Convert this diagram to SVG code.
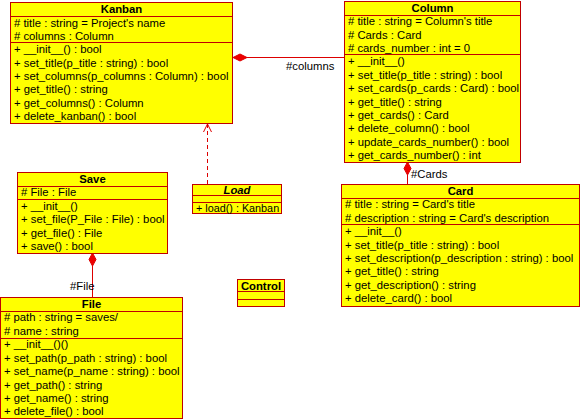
<svg xmlns="http://www.w3.org/2000/svg" width="580" height="419" viewBox="0 0 580 419">
  <style>
    .box { fill: #ffff00; stroke: #c00000; stroke-width: 1; }
    .sep { stroke: #c00000; stroke-width: 1; }
    text { font-family: "Liberation Sans", Arial, sans-serif; font-size: 11.3px; fill: #000; }
    .name { font-weight: bold; text-anchor: middle; }
    .abstract { font-style: italic; }
    .conn { stroke: #dd0000; stroke-width: 1; fill: none; }
    .dash { stroke-dasharray: 4 3; }
    .diamond { fill: #ee0000; stroke: #dd0000; stroke-width: 1; }
  </style>
  <defs>
    <marker id="openArrow" markerWidth="10" markerHeight="10" refX="9" refY="5" orient="auto" markerUnits="userSpaceOnUse">
      <path d="M1,1 L9,5 L1,9" fill="none" stroke="#dd0000" stroke-width="1"/>
    </marker>
  </defs>
  <rect width="580" height="419" fill="#ffffff"/>

  <!-- connectors -->
  <g id="connectors">
    <!-- Kanban owns Column -->
    <line class="conn" x1="247" y1="57.5" x2="344" y2="57.5"/>
    <path class="diamond" d="M233,57.5 L240,54 L247,57.5 L240,61 Z"/>
    <text x="286" y="70">#columns</text>
    <!-- Column owns Card -->
    <line class="conn" x1="407.5" y1="175" x2="407.5" y2="184"/>
    <path class="diamond" d="M407.5,162 L411,168.5 L407.5,175 L404,168.5 Z"/>
    <text x="411" y="178">#Cards</text>
    <!-- Save owns File -->
    <line class="conn" x1="92.5" y1="266" x2="92.5" y2="297"/>
    <path class="diamond" d="M92.5,253 L96,259.5 L92.5,266 L89,259.5 Z"/>
    <text x="70" y="290">#File</text>
    <!-- Load realizes Kanban -->
    <line class="conn dash" x1="207.5" y1="184" x2="207.5" y2="124" marker-end="url(#openArrow)"/>
  </g>

  <g id="kanban">
    <rect class="box" x="10.5" y="2.5" width="222" height="121"/>
    <line class="sep" x1="10.5" y1="16.5" x2="232.5" y2="16.5"/>
    <line class="sep" x1="10.5" y1="42.5" x2="232.5" y2="42.5"/>
    <text class="name" x="121.5" y="13">Kanban</text>
    <text x="14" y="27"># title : string = Project's name</text>
    <text x="14" y="40"># columns : Column</text>
    <text x="14" y="53">+ __init__() : bool</text>
    <text x="14" y="66.5">+ set_title(p_title : string) : bool</text>
    <text x="14" y="80">+ set_columns(p_columns : Column) : bool</text>
    <text x="14" y="93">+ get_title() : string</text>
    <text x="14" y="106.5">+ get_columns() : Column</text>
    <text x="14" y="120">+ delete_kanban() : bool</text>
  </g>

  <g id="column">
    <rect class="box" x="344.5" y="1.5" width="176" height="161"/>
    <line class="sep" x1="344.5" y1="15.5" x2="520.5" y2="15.5"/>
    <line class="sep" x1="344.5" y1="54.5" x2="520.5" y2="54.5"/>
    <text class="name" x="432.5" y="12">Column</text>
    <text x="348" y="25"># title : string = Column's title</text>
    <text x="348" y="38.5"># Cards : Card</text>
    <text x="348" y="52"># cards_number : int = 0</text>
    <text x="348" y="65">+ __init__()</text>
    <text x="348" y="79">+ set_title(p_title : string) : bool</text>
    <text x="348" y="92">+ set_cards(p_cards : Card) : bool</text>
    <text x="348" y="105.5">+ get_title() : string</text>
    <text x="348" y="119">+ get_cards() : Card</text>
    <text x="348" y="132">+ delete_column() : bool</text>
    <text x="348" y="146">+ update_cards_number() : bool</text>
    <text x="348" y="159">+ get_cards_number() : int</text>
  </g>

  <g id="card">
    <rect class="box" x="341.5" y="184.5" width="238" height="122"/>
    <line class="sep" x1="341.5" y1="198.5" x2="579.5" y2="198.5"/>
    <line class="sep" x1="341.5" y1="224.5" x2="579.5" y2="224.5"/>
    <text class="name" x="460.5" y="195">Card</text>
    <text x="345" y="208"># title : string = Card's title</text>
    <text x="345" y="221.5"># description : string = Card's description</text>
    <text x="345" y="235">+ __init__()</text>
    <text x="345" y="248.5">+ set_title(p_title : string) : bool</text>
    <text x="345" y="262">+ set_description(p_description : string) : bool</text>
    <text x="345" y="275">+ get_title() : string</text>
    <text x="345" y="288.5">+ get_description() : string</text>
    <text x="345" y="302">+ delete_card() : bool</text>
  </g>

  <g id="load">
    <rect class="box" x="192.5" y="184.5" width="89" height="29"/>
    <line class="sep" x1="192.5" y1="195.5" x2="281.5" y2="195.5"/>
    <line class="sep" x1="192.5" y1="202.5" x2="281.5" y2="202.5"/>
    <text class="name abstract" x="237" y="193.5">Load</text>
    <text x="196" y="211.5" style="font-size:10.8px">+ load() : Kanban</text>
  </g>

  <g id="save">
    <rect class="box" x="17.5" y="172.5" width="150" height="81"/>
    <line class="sep" x1="17.5" y1="186.5" x2="167.5" y2="186.5"/>
    <line class="sep" x1="17.5" y1="199.5" x2="167.5" y2="199.5"/>
    <text class="name" x="92.5" y="183">Save</text>
    <text x="21" y="196"># File : File</text>
    <text x="21" y="210">+ __init__()</text>
    <text x="21" y="223">+ set_file(P_File : File) : bool</text>
    <text x="21" y="236.5">+ get_file() : File</text>
    <text x="21" y="250">+ save() : bool</text>
  </g>

  <g id="file">
    <rect class="box" x="0.5" y="297.5" width="182" height="121"/>
    <line class="sep" x1="0.5" y1="311.5" x2="182.5" y2="311.5"/>
    <line class="sep" x1="0.5" y1="338.5" x2="182.5" y2="338.5"/>
    <text class="name" x="91.5" y="308">File</text>
    <text x="4" y="321"># path : string = saves/</text>
    <text x="4" y="335"># name : string</text>
    <text x="4" y="348">+ __init__()()</text>
    <text x="4" y="361.5">+ set_path(p_path : string) : bool</text>
    <text x="4" y="375">+ set_name(p_name : string) : bool</text>
    <text x="4" y="388.5">+ get_path() : string</text>
    <text x="4" y="402">+ get_name() : string</text>
    <text x="4" y="415">+ delete_file() : bool</text>
  </g>

  <g id="control">
    <rect class="box" x="237.5" y="279.5" width="47" height="27"/>
    <line class="sep" x1="237.5" y1="291.5" x2="284.5" y2="291.5"/>
    <line class="sep" x1="237.5" y1="299.5" x2="284.5" y2="299.5"/>
    <text class="name" x="261" y="289.5">Control</text>
  </g>
</svg>
